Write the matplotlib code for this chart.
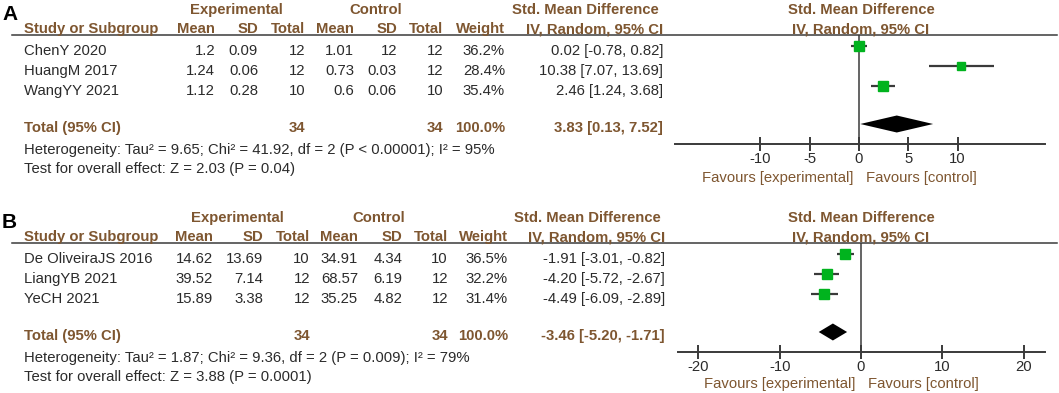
import numpy as np
import matplotlib
matplotlib.use("Agg")
import matplotlib.pyplot as plt
from matplotlib.lines import Line2D

plt.rcParams['font.family'] = ['Liberation Sans', 'DejaVu Sans']

# Panel A data
a_studies = ['ChenY 2020', 'HuangM 2017', 'WangYY 2021']
a_exp_mean = [1.2, 1.24, 1.12]
a_exp_sd = [0.09, 0.06, 0.28]
a_exp_n = [12, 12, 10]
a_ctl_mean = [1.01, 0.73, 0.6]
a_ctl_sd = [12, 0.03, 0.06]
a_ctl_n = [12, 12, 10]
a_weight = [36.2, 28.4, 35.4]
a_smd = [0.02, 10.38, 2.46]
a_lo = [-0.78, 7.07, 1.24]
a_hi = [0.82, 13.69, 3.68]
a_total = (3.83, 0.13, 7.52)
a_het = 'Heterogeneity: Tau² = 9.65; Chi² = 41.92, df = 2 (P < 0.00001); I² = 95%'
a_test = 'Test for overall effect: Z = 2.03 (P = 0.04)'
a_ticks = [-10, -5, 0, 5, 10]

# Panel B data
b_studies = ['De OliveiraJS 2016', 'LiangYB 2021', 'YeCH 2021']
b_exp_mean = [14.62, 39.52, 15.89]
b_exp_sd = [13.69, 7.14, 3.38]
b_exp_n = [10, 12, 12]
b_ctl_mean = [34.91, 68.57, 35.25]
b_ctl_sd = [4.34, 6.19, 4.82]
b_ctl_n = [10, 12, 12]
b_weight = [36.5, 32.2, 31.4]
b_smd = [-1.91, -4.20, -4.49]
b_lo = [-3.01, -5.72, -6.09]
b_hi = [-0.82, -2.67, -2.89]
b_total = (-3.46, -5.20, -1.71)
b_het = 'Heterogeneity: Tau² = 1.87; Chi² = 9.36, df = 2 (P = 0.009); I² = 79%'
b_test = 'Test for overall effect: Z = 3.88 (P = 0.0001)'
b_ticks = [-20, -10, 0, 10, 20]

W, H = 1059, 393
fig = plt.figure(figsize=(W / 100, H / 100), dpi=100)

HEAD = '#7e5630'
TXT = '#2b2b2b'
LINE = '#3a3a3a'
GREEN = '#00b31e'
FS = 10.7


def fx(x):
    return x / W


def fy(y):
    return 1 - y / H


def txt(x, y, s, ha='left', bold=False, color=TXT, size=FS):
    fig.text(fx(x), fy(y), s, ha=ha, va='baseline', color=color,
             fontsize=size, fontweight='bold' if bold else 'normal')


def fmt(v):
    return ('%g' % v)


def panel(label, y0, cols, head_x, studies, em, es, en, cm, cs, cn, wt,
          smd, lo, hi, total, het, test, ticks, ax_left, zero_px, px_unit):
    # cols: right edges of Mean, SD, Total, Mean, SD, Total, Weight, CI
    txt(2, y0 + 20, label, bold=True, color='black', size=15)
    txt(head_x[0], y0 + 14, 'Experimental', ha='center', bold=True, color=HEAD)
    txt(head_x[1], y0 + 14, 'Control', ha='center', bold=True, color=HEAD)
    txt(head_x[2], y0 + 14, 'Std. Mean Difference', ha='center', bold=True, color=HEAD)
    txt(head_x[3], y0 + 14, 'Std. Mean Difference', ha='center', bold=True, color=HEAD)
    txt(24, y0 + 33, 'Study or Subgroup', bold=True, color=HEAD)
    for x, s in zip(cols, ['Mean', 'SD', 'Total', 'Mean', 'SD', 'Total', 'Weight',
                           'IV, Random, 95% CI']):
        txt(x, y0 + 33, s, ha='right', bold=True, color=HEAD)
    txt(head_x[3], y0 + 33, 'IV, Random, 95% CI', ha='center', bold=True, color=HEAD)
    fig.add_artist(Line2D([fx(12), fx(1057)], [fy(y0 + 35), fy(y0 + 35)],
                          color=LINE, lw=1.1))

    for i, name in enumerate(studies):
        yb = y0 + 55 + 20 * i
        txt(24, yb, name)
        vals = [fmt(em[i]), fmt(es[i]), str(en[i]), fmt(cm[i]), fmt(cs[i]),
                str(cn[i]), '%.1f%%' % wt[i],
                '%.2f [%.2f, %.2f]' % (smd[i], lo[i], hi[i])]
        for x, s in zip(cols, vals):
            txt(x, yb, s, ha='right')

    yt = y0 + 132
    txt(24, yt, 'Total (95% CI)', bold=True, color=HEAD)
    txt(cols[2], yt, str(sum(en)), ha='right', bold=True, color=HEAD)
    txt(cols[5], yt, str(sum(cn)), ha='right', bold=True, color=HEAD)
    txt(cols[6], yt, '100.0%', ha='right', bold=True, color=HEAD)
    txt(cols[7], yt, '%.2f [%.2f, %.2f]' % total, ha='right', bold=True, color=HEAD)
    txt(24, y0 + 154, het)
    txt(24, y0 + 173, test)

    # forest plot axes (y in pixels from panel top)
    top_px, axis_px, right_px = y0 + 35, y0 + 144, 1045
    ax = fig.add_axes([fx(ax_left), fy(axis_px), fx(right_px - ax_left),
                       (axis_px - top_px) / H])
    ax.set_xlim((ax_left - zero_px) / px_unit, (right_px - zero_px) / px_unit)
    ax.set_ylim(axis_px, top_px)
    ax.patch.set_alpha(0)
    for s in ['top', 'left', 'right']:
        ax.spines[s].set_visible(False)
    ax.spines['bottom'].set_color(LINE)
    ax.spines['bottom'].set_linewidth(1.4)
    ax.set_yticks([])
    ax.set_xticks(ticks)
    ax.set_xticklabels([str(t) for t in ticks])
    ax.tick_params(axis='x', direction='inout', length=10, width=1.4,
                   color=LINE, labelsize=FS, labelcolor=TXT, pad=1)
    ax.axvline(0, color=LINE, lw=1.1)
    for i in range(len(studies)):
        yr = y0 + 46 + 20 * i
        ax.plot([lo[i], hi[i]], [yr, yr], color=LINE, lw=1.6, solid_capstyle='butt')
        ms = 10 * np.sqrt(wt[i] / 36.2) * 0.72
        ax.plot(smd[i], yr, 's', ms=ms, color=GREEN, mec=GREEN)
    yd = y0 + 124
    est, tlo, thi = total
    ax.fill([tlo, est, thi, est], [yd, yd - 8.5, yd, yd + 8.5], color='black', lw=0)
    return ax


panel('A', 0, [215, 258, 305, 354, 397, 443, 505, 663], [236, 376, 585, 861],
      a_studies, a_exp_mean, a_exp_sd, a_exp_n, a_ctl_mean, a_ctl_sd, a_ctl_n,
      a_weight, a_smd, a_lo, a_hi, a_total, a_het, a_test, a_ticks,
      675, 859, 9.86)
txt(853, 182, 'Favours [experimental]', ha='right', color=HEAD)
txt(866, 182, 'Favours [control]', color=HEAD)

panel('B', 208, [213, 263, 310, 358, 402, 448, 508, 665], [237, 379, 587, 861],
      b_studies, b_exp_mean, b_exp_sd, b_exp_n, b_ctl_mean, b_ctl_sd, b_ctl_n,
      b_weight, b_smd, b_lo, b_hi, b_total, b_het, b_test, b_ticks,
      678, 861, 8.13)
txt(855, 388, 'Favours [experimental]', ha='right', color=HEAD)
txt(868, 388, 'Favours [control]', color=HEAD)

fig.savefig('out.png', dpi=100, facecolor='white')
